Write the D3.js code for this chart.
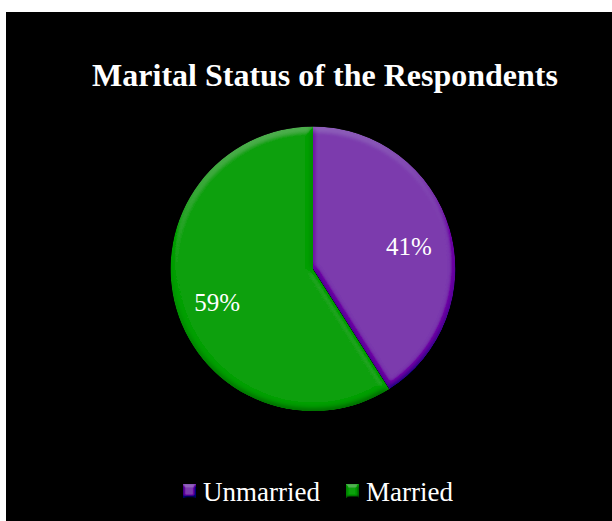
<!DOCTYPE html>
<html>
<head>
<meta charset="utf-8">
<script src="https://cdn.jsdelivr.net/npm/d3@7"></script>
<style>
  html, body { margin: 0; padding: 0; background: #ffffff; }
  svg { display: block; }
  text { font-family: "Liberation Serif", "Times New Roman", serif; fill: #ffffff; }
</style>
</head>
<body>
<svg id="chart" width="612" height="521"></svg>
<script>
// Marital status shares (percent)
const categories = ["Unmarried", "Married"];
const shares = [41, 59];
const sliceColors = ["#7b3aad", "#07a007"];
const titleText = "Marital Status of the Respondents";

const W = 612, H = 521;
const svg = d3.select("#chart");

// Bevel filter: blurred alpha lit from above, added onto the fill
const defs = svg.append("defs");
function bevel(id, blur, scale, strength) {
  const f = defs.append("filter").attr("id", id)
    .attr("x", "-10%").attr("y", "-10%").attr("width", "120%").attr("height", "120%");
  f.append("feGaussianBlur").attr("in", "SourceAlpha").attr("stdDeviation", blur).attr("result", "b");
  f.append("feDiffuseLighting").attr("in", "b").attr("surfaceScale", scale)
    .attr("diffuseConstant", 1).attr("lighting-color", "#ffffff").attr("result", "light")
    .append("feDistantLight").attr("azimuth", 260).attr("elevation", 55);
  const flat = Math.sin(55 * Math.PI / 180);
  f.append("feComposite").attr("in", "SourceGraphic").attr("in2", "light")
    .attr("operator", "arithmetic").attr("k1", 0).attr("k2", 1)
    .attr("k3", strength).attr("k4", -strength * flat).attr("result", "lit");
  f.append("feComposite").attr("in", "lit").attr("in2", "SourceAlpha").attr("operator", "in");
}
bevel("pieBevel", 3, 3, 0.38);
bevel("keyBevel", 1.5, 3, 0.5);

// Chart area background
svg.append("rect").attr("x", 6).attr("y", 12).attr("width", W - 6).attr("height", H - 12)
  .attr("fill", "#000000");

// Title
svg.append("text")
  .attr("x", 325).attr("y", 86)
  .attr("text-anchor", "middle")
  .style("font-size", "32px").style("font-weight", "bold")
  .text(titleText);

// Pie
const cx = 313, cy = 269, r = 142.5;
const data = categories.map((c, i) => ({ name: c, value: shares[i], color: sliceColors[i] }));
const pie = d3.pie().value(d => d.value).sort(null);
const arcs = pie(data);
const arc = d3.arc().innerRadius(0).outerRadius(r);
const labelArc = d3.arc().innerRadius(r * 0.7).outerRadius(r * 0.7);

const g = svg.append("g").attr("transform", `translate(${cx},${cy})`);
g.selectAll("path.slice").data(arcs).enter().append("path")
  .attr("class", "slice")
  .attr("d", arc)
  .attr("fill", d => d.data.color)
  .attr("filter", "url(#pieBevel)");

// Percentage labels, nudged toward the lower half of the pie
g.selectAll("text.lbl").data(arcs).enter().append("text")
  .attr("class", "lbl")
  .attr("transform", d => {
    const [x, y] = labelArc.centroid(d);
    return `translate(${x},${y + 5})`;
  })
  .attr("text-anchor", "middle")
  .attr("dy", "0.35em")
  .style("font-size", "25px")
  .text(d => d3.format(".0f")(d.data.value) + "%");

// Legend
const legend = svg.append("g");
const items = legend.selectAll("g").data(data).enter().append("g");
items.append("rect").attr("width", 13).attr("height", 14).attr("y", -17)
  .attr("fill", d => d.color).attr("filter", "url(#keyBevel)");
items.append("text").attr("x", 20).attr("y", 0)
  .style("font-size", "27px")
  .text(d => d.name);
let xPos = 0;
items.each(function () {
  d3.select(this).attr("transform", `translate(${xPos},0)`);
  const tw = d3.select(this).select("text").node().getComputedTextLength();
  xPos += 20 + tw + 26;
});
const totalW = xPos - 26;
legend.attr("transform", `translate(${318 - totalW / 2},501)`);
</script>
</body>
</html>
